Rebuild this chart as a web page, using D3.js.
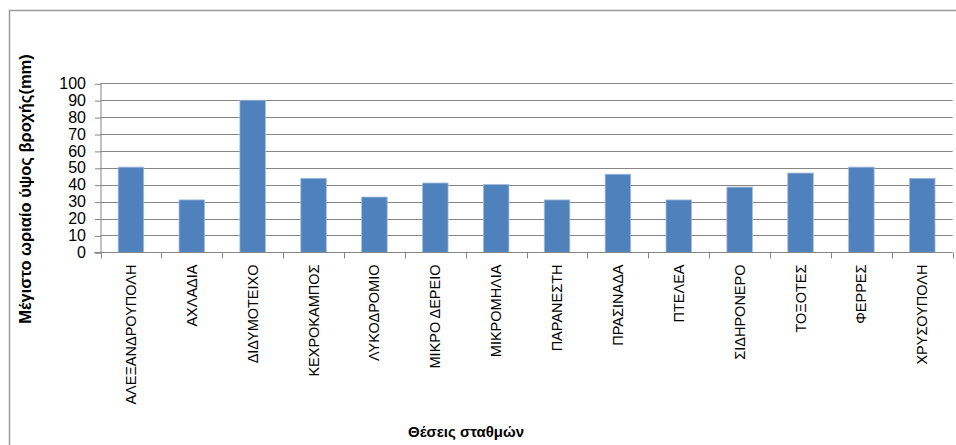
<!DOCTYPE html>
<html>
<head>
<meta charset="utf-8">
<script src="https://cdn.jsdelivr.net/npm/d3@7"></script>
<style>
  body { margin: 0; background: #fff; }
  svg { display: block; font-family: "Liberation Sans", Arial, sans-serif; }
</style>
</head>
<body>
<svg id="chart" width="956" height="445"></svg>
<script>
const stations = ["ΑΛΕΞΑΝΔΡΟΥΠΟΛΗ", "ΑΧΛΑΔΙΑ", "ΔΙΔΥΜΟΤΕΙΧΟ", "ΚΕΧΡΟΚΑΜΠΟΣ", "ΛΥΚΟΔΡΟΜΙΟ",
  "ΜΙΚΡΟ ΔΕΡΕΙΟ", "ΜΙΚΡΟΜΗΛΙΑ", "ΠΑΡΑΝΕΣΤΗ", "ΠΡΑΣΙΝΑΔΑ", "ΠΤΕΛΕΑ", "ΣΙΔΗΡΟΝΕΡΟ",
  "ΤΟΞΟΤΕΣ", "ΦΕΡΡΕΣ", "ΧΡΥΣΟΥΠΟΛΗ"];
const maxRain = [50.4, 31, 90, 43.8, 32.7, 41, 40.2, 31, 46.2, 31, 38.6, 46.9, 50.4, 43.8];
const yTicks = [0, 10, 20, 30, 40, 50, 60, 70, 80, 90, 100];

const svg = d3.select("#chart");
const plotLeft = 100.5, plotRight = 952.7, plotTop = 83.3, plotBottom = 252.3;
const gridColor = "#868686";

// chart frame (only left and top edges show in the crop)
svg.append("path")
  .attr("d", "M9.5,445 V10.5 H956")
  .attr("fill", "none")
  .attr("stroke", "#9a9a9a")
  .attr("stroke-width", 1.5);

const x = d3.scaleBand()
  .domain(stations)
  .range([plotLeft, plotRight])
  .padding(0);

const y = d3.scaleLinear()
  .domain([0, 100])
  .range([plotBottom, plotTop]);

// gridlines
svg.append("g")
  .selectAll("line")
  .data(yTicks.slice(1))
  .join("line")
  .attr("x1", plotLeft)
  .attr("x2", plotRight)
  .attr("y1", d => Math.round(y(d)) + 0.5)
  .attr("y2", d => Math.round(y(d)) + 0.5)
  .attr("stroke", gridColor);

// bars
const barW = x.bandwidth() * 0.42;
svg.append("g")
  .selectAll("rect")
  .data(stations)
  .join("rect")
  .attr("x", (d, i) => x(d) + (x.bandwidth() - barW) / 2)
  .attr("y", (d, i) => y(maxRain[i]))
  .attr("width", barW)
  .attr("height", (d, i) => y(0) - y(maxRain[i]))
  .attr("fill", "#4f81bd")
  .attr("stroke", "#a7bfdd")
  .attr("stroke-width", 0.8);

// y axis
const yAxis = svg.append("g")
  .attr("transform", `translate(${plotLeft},0)`)
  .call(d3.axisLeft(y).tickValues(yTicks).tickSize(6).tickPadding(8.5));
yAxis.select(".domain").attr("stroke", gridColor).attr("d", `M0.5,${plotTop}V${plotBottom + 0.5}`);
yAxis.selectAll(".tick line").attr("stroke", gridColor).attr("transform", "translate(0.5,0.5)");
yAxis.selectAll(".tick text")
  .attr("font-size", 16)
  .attr("fill", "#000")
  .attr("font-family", "Liberation Sans, Arial, sans-serif");

// x axis
const xAxis = svg.append("g")
  .attr("transform", `translate(0,${Math.round(plotBottom) + 0.5})`);
xAxis.append("line")
  .attr("x1", plotLeft - 6).attr("x2", plotRight)
  .attr("stroke", gridColor);
xAxis.selectAll("line.tk")
  .data(stations.concat([null]))
  .join("line")
  .attr("class", "tk")
  .attr("x1", d => Math.round(d === null ? plotRight : x(d)) + 0.5)
  .attr("x2", d => Math.round(d === null ? plotRight : x(d)) + 0.5)
  .attr("y1", 0).attr("y2", 6)
  .attr("stroke", gridColor);
xAxis.selectAll("text")
  .data(stations)
  .join("text")
  .attr("transform", d => `translate(${x(d) + x.bandwidth() / 2 + 5},12) rotate(-90)`)
  .attr("text-anchor", "end")
  .attr("font-size", 14.5)
  .attr("fill", "#000")
  .text(d => d);

// axis titles
svg.append("text")
  .attr("transform", "translate(31,189) rotate(-90)")
  .attr("text-anchor", "middle")
  .attr("font-size", 16.5)
  .attr("font-weight", "bold")
  .text("Μέγιστο ωριαίο ύψος βροχής(mm)");

svg.append("text")
  .attr("x", 466)
  .attr("y", 437)
  .attr("text-anchor", "middle")
  .attr("font-size", 15)
  .attr("font-weight", "bold")
  .text("Θέσεις σταθμών");
</script>
</body>
</html>
